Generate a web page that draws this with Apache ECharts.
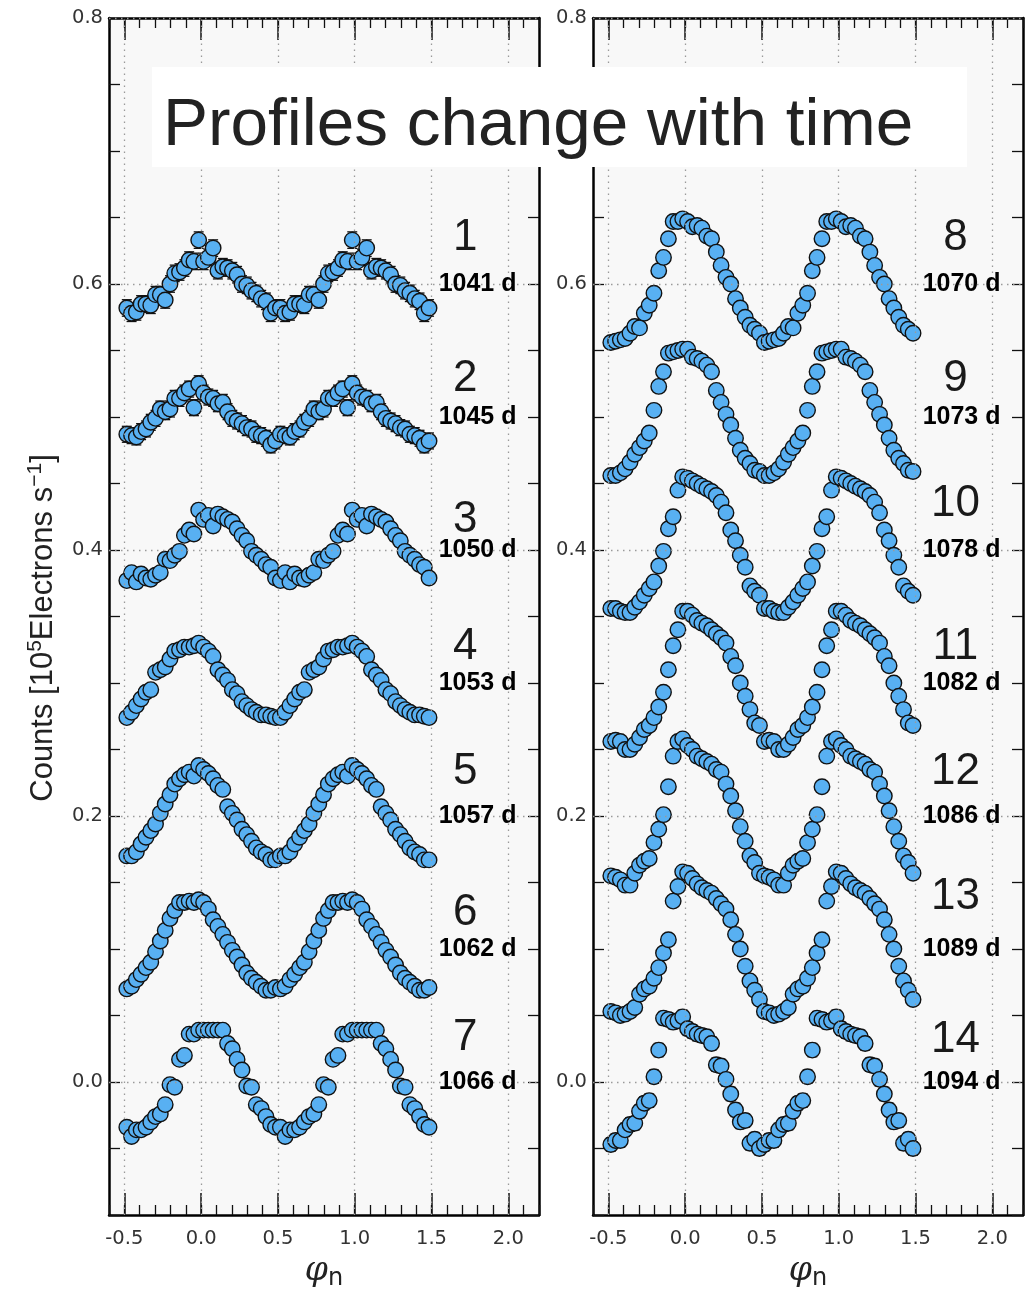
<!DOCTYPE html>
<html><head><meta charset="utf-8">
<script src="https://cdn.jsdelivr.net/npm/echarts@6/dist/echarts.min.js"></script>
<style>html,body{margin:0;padding:0;background:#fff}#c{width:1026px;height:1291px}</style>
</head><body><div id="c"></div>
<script>
// Phase bins of one folded cycle (plotted twice: phase and phase+1)
const phase = [-0.484,-0.453,-0.422,-0.391,-0.359,-0.328,-0.297,-0.266,-0.234,-0.203,-0.172,-0.141,-0.109,-0.078,-0.047,-0.016,
               0.016,0.047,0.078,0.109,0.141,0.172,0.203,0.234,0.266,0.297,0.328,0.359,0.391,0.422,0.453,0.484];

const p1  = [0.582,0.578,0.579,0.585,0.585,0.584,0.592,0.592,0.588,0.600,0.608,0.609,0.612,0.618,0.617,0.633,0.617,0.620,0.627,0.610,0.613,0.612,0.610,0.607,0.600,0.599,0.595,0.593,0.589,0.587,0.578,0.582];
const p2  = [0.487,0.486,0.485,0.489,0.491,0.496,0.499,0.506,0.504,0.506,0.514,0.514,0.518,0.521,0.507,0.525,0.518,0.515,0.514,0.510,0.511,0.504,0.499,0.497,0.495,0.492,0.491,0.487,0.486,0.484,0.479,0.482];
const p3  = [0.377,0.383,0.376,0.382,0.379,0.378,0.381,0.383,0.393,0.392,0.396,0.399,0.411,0.415,0.412,0.430,0.423,0.426,0.418,0.427,0.425,0.423,0.421,0.416,0.411,0.407,0.399,0.396,0.393,0.389,0.387,0.379];
const p4  = [0.274,0.278,0.283,0.288,0.293,0.295,0.308,0.310,0.312,0.318,0.324,0.325,0.327,0.327,0.328,0.330,0.327,0.324,0.320,0.310,0.306,0.302,0.295,0.292,0.286,0.283,0.280,0.278,0.276,0.276,0.275,0.274];
const p5  = [0.170,0.170,0.173,0.179,0.184,0.189,0.194,0.202,0.209,0.216,0.224,0.228,0.231,0.233,0.230,0.238,0.235,0.232,0.228,0.223,0.220,0.207,0.202,0.197,0.190,0.186,0.181,0.176,0.173,0.171,0.167,0.167];
const p6  = [0.070,0.072,0.077,0.081,0.086,0.090,0.098,0.106,0.114,0.123,0.129,0.135,0.135,0.136,0.135,0.137,0.135,0.130,0.122,0.117,0.111,0.105,0.099,0.094,0.088,0.082,0.078,0.075,0.072,0.069,0.069,0.071];
const p7  = [-0.034,-0.041,-0.036,-0.036,-0.034,-0.030,-0.026,-0.024,-0.017,-0.002,-0.004,0.017,0.020,0.036,0.036,0.039,0.039,0.039,0.039,0.039,0.039,0.029,0.025,0.017,0.009,-0.003,-0.004,-0.017,-0.020,-0.026,-0.032,-0.034];
const p8  = [0.556,0.557,0.558,0.559,0.563,0.568,0.567,0.578,0.584,0.593,0.610,0.620,0.634,0.647,0.647,0.649,0.647,0.643,0.644,0.642,0.636,0.634,0.624,0.614,0.605,0.600,0.589,0.582,0.575,0.569,0.566,0.563];
const p9  = [0.456,0.456,0.458,0.461,0.466,0.472,0.477,0.482,0.488,0.505,0.523,0.534,0.548,0.549,0.550,0.551,0.551,0.545,0.544,0.542,0.539,0.534,0.520,0.511,0.502,0.494,0.484,0.475,0.469,0.465,0.460,0.459];
const p10 = [0.356,0.356,0.354,0.353,0.353,0.357,0.361,0.366,0.371,0.376,0.388,0.399,0.416,0.425,0.445,0.455,0.454,0.452,0.450,0.448,0.446,0.444,0.441,0.436,0.428,0.415,0.407,0.396,0.387,0.373,0.369,0.366];
const p11 = [0.256,0.257,0.256,0.250,0.250,0.254,0.259,0.265,0.268,0.274,0.282,0.293,0.310,0.328,0.340,0.354,0.354,0.351,0.347,0.345,0.343,0.340,0.337,0.334,0.330,0.320,0.313,0.300,0.290,0.280,0.270,0.268];
const p12 = [0.155,0.154,0.152,0.148,0.148,0.157,0.163,0.166,0.168,0.180,0.190,0.201,0.222,0.245,0.256,0.258,0.253,0.250,0.245,0.243,0.241,0.239,0.235,0.233,0.224,0.215,0.204,0.192,0.181,0.170,0.165,0.157];
const p13 = [0.053,0.052,0.050,0.051,0.053,0.056,0.066,0.070,0.072,0.078,0.086,0.097,0.107,0.136,0.147,0.158,0.157,0.153,0.149,0.146,0.144,0.142,0.138,0.134,0.130,0.122,0.111,0.100,0.087,0.076,0.069,0.062];
const p14 = [-0.047,-0.044,-0.044,-0.036,-0.032,-0.031,-0.022,-0.016,-0.014,0.004,0.024,0.048,0.047,0.045,0.046,0.049,0.040,0.038,0.036,0.035,0.034,0.029,0.013,0.012,0.002,-0.009,-0.021,-0.030,-0.029,-0.046,-0.043,-0.050];

const profiles = [p1,p2,p3,p4,p5,p6,p7,p8,p9,p10,p11,p12,p13,p14];
const profileErr = [0.0062,0.006,0.0045,0.004,0.004,0.004,0.004,0.004,0.004,0.004,0.004,0.004,0.004,0.005];
const profileNum = ['1','2','3','4','5','6','7','8','9','10','11','12','13','14'];
const days = ['1041 d','1045 d','1050 d','1053 d','1057 d','1062 d','1066 d','1070 d','1073 d','1078 d','1082 d','1086 d','1089 d','1094 d'];
const dayLabelY = [0.6,0.5,0.4,0.3,0.2,0.1,0.0, 0.6,0.5,0.4,0.3,0.2,0.1,0.0];
const numLabelY = [0.635,0.529,0.423,0.327,0.233,0.127,0.033, 0.635,0.529,0.435,0.327,0.233,0.139,0.032];
const dayLabelX = [1.8, 1.8];
const numLabelX = [1.72, 1.76];
const xMajorTicks = [-0.5,0.0,0.5,1.0,1.5,2.0];
const yMajorTicks = [0.0,0.2,0.4,0.6,0.8];

const chart = echarts.init(document.getElementById('c'), null, {renderer:'canvas'});
const isMult = (v, s) => Math.abs(v / s - Math.round(v / s)) < 1e-6;
const fmt1 = v => (Math.abs(v) < 1e-9 ? '0.0' : v.toFixed(1));
const tickFont = {fontFamily:'DejaVu Sans', fontSize:19.5, color:'#333'};
const panelLeft = [109, 593];

const grids = [], xAxes = [], yAxes = [], series = [];
for (let p = 0; p < 2; p++) {
  grids.push({left: panelLeft[p], top: 18, width: 430, height: 1197, show: true,
    backgroundColor: '#f8f8f8', borderWidth: 0, containLabel: false, outerBoundsMode: 'none'});
  const xbase = {type:'value', gridIndex:p, min:-0.6, max:2.2, interval:0.1, splitLine:{show:false}};
  xAxes.push(Object.assign({}, xbase, {position:'bottom',
    axisLine:{show:true, onZero:false, lineStyle:{color:'#000', width:2.5}},
    axisTick:{show:true, inside:true, length:10, lineStyle:{color:'#111', width:1.3}},
    axisLabel:Object.assign({margin:14, formatter: v => isMult(v,0.5) ? fmt1(v) : ''}, tickFont),
    name:'{phi|φ}{sub|n}', nameLocation:'middle', nameGap:36,
    nameTextStyle:{rich:{phi:{fontFamily:'DejaVu Serif', fontStyle:'italic', fontSize:33, lineHeight:40, color:'#222'},
                         sub:{fontFamily:'DejaVu Sans', fontSize:24, lineHeight:24, verticalAlign:'bottom', color:'#222'}}}
  }));
  xAxes.push(Object.assign({}, xbase, {position:'bottom',
    axisLine:{show:false, onZero:false},
    axisTick:{show:true, inside:true, length:22, customValues: xMajorTicks, lineStyle:{color:'#111', width:1.5}},
    axisLabel:{show:false}}));
  xAxes.push(Object.assign({}, xbase, {position:'top',
    axisLine:{show:true, onZero:false, lineStyle:{color:'#000', width:2.5}},
    axisTick:{show:true, inside:true, length:10, lineStyle:{color:'#111', width:1.3}},
    axisLabel:{show:false}}));
  xAxes.push(Object.assign({}, xbase, {position:'top',
    axisLine:{show:false, onZero:false},
    axisTick:{show:true, inside:true, length:22, customValues: xMajorTicks, lineStyle:{color:'#111', width:1.5}},
    axisLabel:{show:false}}));
  const ybase = {type:'value', gridIndex:p, min:-0.1, max:0.8, interval:0.05, splitLine:{show:false}};
  yAxes.push(Object.assign({}, ybase, {position:'left',
    axisLine:{show:true, onZero:false, lineStyle:{color:'#000', width:2.5}},
    axisTick:{show:true, inside:true, length:11, lineStyle:{color:'#111', width:1.3}},
    axisLabel:Object.assign({margin:6, formatter: v => isMult(v,0.2) ? fmt1(v) : ''}, tickFont)
  }));
  yAxes.push(Object.assign({}, ybase, {position:'right',
    axisLine:{show:true, onZero:false, lineStyle:{color:'#000', width:2.5}},
    axisTick:{show:true, inside:true, length:11, lineStyle:{color:'#111', width:1.3}},
    axisLabel:{show:false}}));

  series.push({type:'scatter', xAxisIndex:4*p, yAxisIndex:2*p, data:[], silent:true, z:1,
    markLine:{silent:true, symbol:'none', animation:false, label:{show:false},
      lineStyle:{color:'#9a9a9a', type:[1.5,4.5], width:1.3},
      data: xMajorTicks.map(v => ({xAxis:v})).concat(yMajorTicks.map(v => ({yAxis:v})))}});
}

profiles.forEach((vals, k) => {
  const p = k < 7 ? 0 : 1;
  const pts = phase.map((x, i) => [x, vals[i]]).concat(phase.map((x, i) => [x + 1, vals[i]]));
  const err = profileErr[k];
  series.push({type:'custom', xAxisIndex:4*p, yAxisIndex:2*p, z:2, silent:true,
    data: pts.map(d => [d[0], d[1], err]),
    encode:{x:0, y:1},
    renderItem:(params, api) => {
      const x = api.value(0), y = api.value(1), e = api.value(2);
      const t = api.coord([x, y + e]), b = api.coord([x, y - e]);
      const cw = 5, st = {stroke:'#111', lineWidth:1.3};
      return {type:'group', children:[
        {type:'line', shape:{x1:t[0], y1:t[1], x2:b[0], y2:b[1]}, style:st},
        {type:'line', shape:{x1:t[0]-cw, y1:t[1], x2:t[0]+cw, y2:t[1]}, style:st},
        {type:'line', shape:{x1:b[0]-cw, y1:b[1], x2:b[0]+cw, y2:b[1]}, style:st}]};
    }});
  series.push({type:'scatter', xAxisIndex:4*p, yAxisIndex:2*p, z:3, data: pts,
    symbol:'circle', symbolSize:15.5,
    itemStyle:{color:'#58b0f2', borderColor:'#111', borderWidth:1.4, opacity:1}});
});

for (let p = 0; p < 2; p++) {
  const idx = [0,1,2,3,4,5,6].map(i => i + 7*p);
  series.push({type:'scatter', xAxisIndex:4*p, yAxisIndex:2*p, z:5, silent:true,
    symbolSize:1, itemStyle:{color:'rgba(0,0,0,0)'},
    data: idx.map(i => ({name: days[i], value:[dayLabelX[p], dayLabelY[i]]})),
    label:{show:true, position:'inside', formatter:'{b}', fontFamily:'Liberation Sans', fontWeight:'bold', fontSize:25,
      color:'#000', textBorderWidth:0, opacity:1}});
  series.push({type:'scatter', xAxisIndex:4*p, yAxisIndex:2*p, z:5, silent:true,
    symbolSize:1, itemStyle:{color:'rgba(0,0,0,0)'},
    data: idx.map(i => ({name: profileNum[i], value:[numLabelX[p], numLabelY[i]]})),
    label:{show:true, position:'inside', formatter:'{b}', fontFamily:'Liberation Sans', fontSize:44,
      color:'#1a1a1a', textBorderWidth:0, opacity:1}});
}

chart.setOption({
  animation:false,
  backgroundColor:'#ffffff',
  grid: grids, xAxis: xAxes, yAxis: yAxes, series: series,
  graphic:[
    {type:'text', z:50, x:43, y:628, rotation:Math.PI/2,
      style:{text:'{t|Counts [10}{s|5}{t|Electrons s}{s|−1}{t|]}', align:'center', verticalAlign:'middle',
        rich:{t:{fontFamily:'Liberation Sans', fontSize:31, lineHeight:36, fill:'#222'},
              s:{fontFamily:'Liberation Sans', fontSize:21, lineHeight:20, verticalAlign:'top', fill:'#222'}}}},
    {type:'rect', left:152, top:67, z:100, shape:{width:815, height:100}, style:{fill:'#ffffff'}},
    {type:'text', z:101, x:163, y:126, style:{text:'Profiles change with time', font:'67.5px "Liberation Sans"', fill:'#222', verticalAlign:'middle'}}
  ]
});
</script></body></html>
